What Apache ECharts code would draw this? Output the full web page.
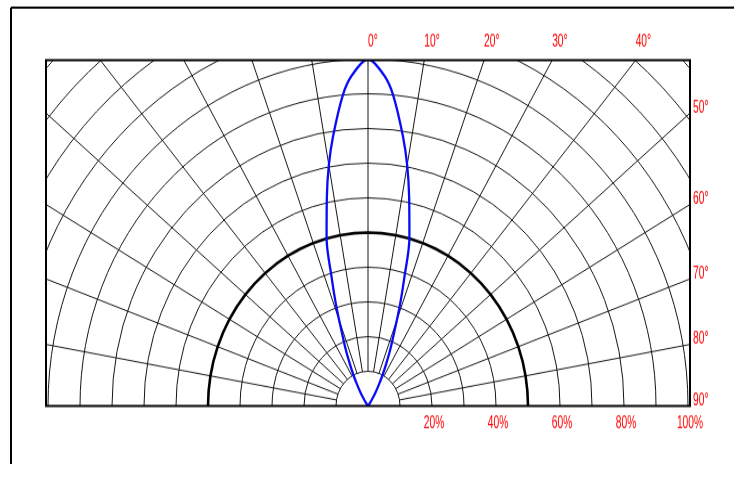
<!DOCTYPE html>
<html>
<head>
<meta charset="utf-8">
<script src="https://cdn.jsdelivr.net/npm/echarts@6/dist/echarts.min.js"></script>
<style>
  html, body { margin: 0; padding: 0; background: #fff; overflow: hidden; }
  /* the original plot is a bit taller than wide, so the round polar grid is stretched */
  #chart { width: 734px; height: 464px; transform: scaleY(1.084); transform-origin: 0 0; }
</style>
</head>
<body>
<div id="chart"></div>
<script>
// relative intensity (%) against angle (deg)
const lobeAngles = [-37, -35, -33, -31, -29, -27, -25, -23, -21, -19, -17, -15, -12, -10, -8, -5, -3,
  0, 3, 5, 8, 10, 12, 15, 17, 19, 21, 23, 25, 27, 29, 31, 33, 35, 37];
const lobeValues = [0, 1, 2.5, 4.5, 7, 10, 13.5, 18, 23, 30.5, 39, 50, 61.8, 70.5, 78.5, 90, 95.5,
  100, 95.5, 90, 78.5, 70.5, 61.8, 50, 39, 30.5, 23, 18, 13.5, 10, 7, 4.5, 2.5, 1, 0];

// the thick 50% reference ring
const halfAngles = [-90, -85, -80, -75, -70, -65, -60, -55, -50, -45, -40, -35, -30, -25, -20, -15, -10, -5,
  0, 5, 10, 15, 20, 25, 30, 35, 40, 45, 50, 55, 60, 65, 70, 75, 80, 85, 90];
const halfLevel = 50;

// labels
const topAngles = [0, 10, 20, 30, 40];
const sideAngles = [50, 60, 70, 80, 90];
const percentTicks = [20, 40, 60, 80, 100];

// layout (before the vertical stretch)
const frame = { left: 46, top: 55.5, right: 690, bottom: 374.5 };
const cx = 368, cy = 374.5;
const labelFont = "16px 'Liberation Sans', Arial, sans-serif";
const labelColor = "#ff0000";

const hiddenAxis = {
  axisLine: { show: false },
  axisTick: { show: false },
  axisLabel: { show: false },
};
const gridLine = { show: true, lineStyle: { color: "#151515", width: 1 } };

const chart = echarts.init(document.getElementById("chart"));

chart.setOption({
  animation: false,
  // polar 0 only draws the grid (it starts at the 10% ring), polar 1 carries the curves
  polar: [
    { center: [cx, cy], radius: [32, 480] },
    { center: [cx, cy], radius: [0, 480] },
  ],
  angleAxis: [
    { polarIndex: 0, type: "value", min: -180, max: 180, interval: 10, startAngle: 270, clockwise: true,
      ...hiddenAxis, splitLine: gridLine },
    { polarIndex: 1, type: "value", min: -180, max: 180, interval: 10, startAngle: 270, clockwise: true,
      ...hiddenAxis, splitLine: { show: false } },
  ],
  radiusAxis: [
    { polarIndex: 0, type: "value", min: 10, max: 150, interval: 10, ...hiddenAxis, splitLine: gridLine },
    { polarIndex: 1, type: "value", min: 0, max: 150, interval: 10, ...hiddenAxis, splitLine: { show: false } },
  ],
  series: [
    {
      name: "50%",
      type: "line",
      coordinateSystem: "polar",
      polarIndex: 1,
      showSymbol: false,
      clip: false,
      data: halfAngles.map((a) => [halfLevel, a]),
      lineStyle: { color: "#000", width: 2.6 },
      z: 3,
    },
    {
      name: "Intensity",
      type: "line",
      coordinateSystem: "polar",
      polarIndex: 1,
      showSymbol: false,
      clip: false,
      smooth: 0.3,
      data: lobeAngles.map((a, i) => [lobeValues[i], a]),
      lineStyle: { color: "#0a0af5", width: 2.3 },
      z: 4,
    },
  ],
});

function toPixel(r, angle) {
  return chart.convertToPixel({ seriesIndex: 0 }, [r, angle]);
}

// narrow, tall lettering like the original
function textEl(x, y, text, align) {
  return {
    type: "text",
    x: x,
    y: y,
    z: 120,
    scaleX: 0.64,
    style: {
      text: text,
      fill: labelColor,
      font: labelFont,
      align: align,
      verticalAlign: "middle",
      textAlign: align,
      textVerticalAlign: "middle",
    },
  };
}

let elements = [
  // white masks around the plot frame
  { type: "rect", z: 100, shape: { x: 0, y: 0, width: 734, height: frame.top }, style: { fill: "#fff" } },
  { type: "rect", z: 100, shape: { x: 0, y: frame.bottom, width: 734, height: 100 }, style: { fill: "#fff" } },
  { type: "rect", z: 100, shape: { x: 0, y: 0, width: frame.left, height: 464 }, style: { fill: "#fff" } },
  { type: "rect", z: 100, shape: { x: frame.right, y: 0, width: 60, height: 464 }, style: { fill: "#fff" } },
  // plot frame
  {
    type: "rect", z: 110,
    shape: { x: frame.left, y: frame.top, width: frame.right - frame.left, height: frame.bottom - frame.top },
    style: { fill: "none", stroke: "#000", lineWidth: 2 },
  },
  // outer border of the picture
  { type: "line", z: 110, shape: { x1: 11, y1: 7.1, x2: 734, y2: 7.1 }, style: { stroke: "#000", lineWidth: 2 } },
  { type: "line", z: 110, shape: { x1: 11, y1: 7.1, x2: 11, y2: 464 }, style: { stroke: "#000", lineWidth: 2 } },
];

// angle labels sit where the radial lines meet the frame
topAngles.forEach((a) => {
  let p = toPixel(100, a);
  let t = (cy - frame.top) / (cy - p[1]);
  let x = cx + t * (p[0] - cx);
  elements.push(textEl(x, frame.top - 17, a + "°", "left"));
});

sideAngles.forEach((a) => {
  let p = toPixel(100, a);
  let t = (frame.right - cx) / (p[0] - cx);
  let y = cy + t * (p[1] - cy);
  elements.push(textEl(frame.right + 3, y - 5, a + "°", "left"));
});

percentTicks.forEach((v) => {
  let p = toPixel(v, 90);
  elements.push(textEl(p[0] + 2, frame.bottom + 16, v + "%", "center"));
});

chart.setOption({ graphic: { elements: elements } });
</script>
</body>
</html>
